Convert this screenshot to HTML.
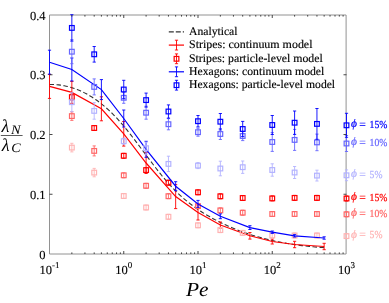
<!DOCTYPE html>
<html><head><meta charset="utf-8"><style>
html,body{margin:0;padding:0;background:#fff;width:389px;height:303px;overflow:hidden;position:relative}
</style></head><body>
<svg width="389" height="303" viewBox="0 0 389 303" style="position:absolute;left:0;top:0;will-change:transform" text-rendering="geometricPrecision">
<rect width="389" height="303" fill="#fff"/>
<path d="M49.5 15.0H346.1V254.0H49.5Z" fill="none" stroke="#929292" stroke-width="1"/>
<polyline points="49.50,84.43 51.34,84.44 53.19,84.49 55.03,84.59 56.87,84.73 58.72,84.92 60.56,85.16 62.41,85.45 64.25,85.79 66.09,86.17 67.94,86.61 69.78,87.10 71.62,87.64 73.47,88.23 75.31,88.87 77.15,89.56 79.00,90.31 80.84,91.11 82.69,91.97 84.53,92.88 86.37,93.84 88.22,94.86 90.06,95.94 91.90,97.07 93.75,98.27 95.59,99.51 97.43,100.82 99.28,102.19 101.12,103.61 102.97,105.10 104.81,106.64 106.65,108.25 108.50,109.91 110.34,111.64 112.18,113.43 114.03,115.29 115.87,117.20 117.71,119.18 119.56,121.23 121.40,123.33 123.24,125.50 125.09,127.71 126.93,129.97 128.78,132.27 130.62,134.61 132.46,136.98 134.31,139.38 136.15,141.81 137.99,144.25 139.84,146.71 141.68,149.18 143.52,151.66 145.37,154.14 147.21,156.61 149.06,159.08 150.90,161.53 152.74,163.97 154.59,166.38 156.43,168.77 158.27,171.13 160.12,173.45 161.96,175.73 163.80,177.97 165.65,180.16 167.49,182.30 169.34,184.37 171.18,186.39 173.02,188.34 174.87,190.23 176.71,192.06 178.55,193.83 180.40,195.55 182.24,197.21 184.08,198.82 185.93,200.38 187.77,201.89 189.62,203.36 191.46,204.77 193.30,206.15 195.15,207.48 196.99,208.77 198.83,210.03 200.68,211.25 202.52,212.43 204.36,213.58 206.21,214.70 208.05,215.79 209.90,216.85 211.74,217.89 213.58,218.90 215.43,219.89 217.27,220.85 219.11,221.79 220.96,222.70 222.80,223.60 224.64,224.47 226.49,225.32 228.33,226.14 230.18,226.95 232.02,227.74 233.86,228.50 235.71,229.25 237.55,229.98 239.39,230.69 241.24,231.38 243.08,232.05 244.92,232.71 246.77,233.35 248.61,233.97 250.46,234.57 252.30,235.16 254.14,235.73 255.99,236.28 257.83,236.82 259.67,237.34 261.52,237.85 263.36,238.34 265.20,238.82 267.05,239.28 268.89,239.72 270.73,240.16 272.58,240.58 274.42,240.98 276.27,241.37 278.11,241.75 279.95,242.12 281.80,242.47 283.64,242.81 285.48,243.14 287.33,243.45 289.17,243.76 291.01,244.05 292.86,244.33 294.70,244.60 296.55,244.86 298.39,245.11 300.23,245.35 302.08,245.58 303.92,245.80 305.76,246.01 307.61,246.22 309.45,246.41 311.29,246.59 313.14,246.77 314.98,246.93 316.83,247.09 318.67,247.25 320.51,247.39 322.36,247.53 324.20,247.66" fill="none" stroke="#333" stroke-width="1.1" stroke-dasharray="4.5 2.5"/>
<polyline points="49.50,86.40 71.85,92.40 101.40,108.80 123.75,133.80 146.10,163.00 175.65,196.60 198.00,212.50 220.35,225.00 249.90,235.80 272.25,241.50 294.60,244.50 324.15,246.50" fill="none" stroke="#ff0000" stroke-width="1.2"/>
<path d="M49.50 74.40V98.40M47.90 74.40H51.10M47.90 98.40H51.10" stroke="#ff0000" stroke-width="0.9" fill="none"/>
<path d="M71.85 81.40V103.40M70.25 81.40H73.45M70.25 103.40H73.45" stroke="#ff0000" stroke-width="0.9" fill="none"/>
<path d="M101.40 96.80V120.80M99.80 96.80H103.00M99.80 120.80H103.00" stroke="#ff0000" stroke-width="0.9" fill="none"/>
<path d="M123.75 121.50V146.10M122.15 121.50H125.35M122.15 146.10H125.35" stroke="#ff0000" stroke-width="0.9" fill="none"/>
<path d="M146.10 152.50V173.50M144.50 152.50H147.70M144.50 173.50H147.70" stroke="#ff0000" stroke-width="0.9" fill="none"/>
<path d="M175.65 184.60V208.60M174.05 184.60H177.25M174.05 208.60H177.25" stroke="#ff0000" stroke-width="0.9" fill="none"/>
<path d="M198.00 205.00V220.00M196.40 205.00H199.60M196.40 220.00H199.60" stroke="#ff0000" stroke-width="0.9" fill="none"/>
<path d="M220.35 222.00V228.00M218.75 222.00H221.95M218.75 228.00H221.95" stroke="#ff0000" stroke-width="0.9" fill="none"/>
<path d="M249.90 232.50V239.10M248.30 232.50H251.50M248.30 239.10H251.50" stroke="#ff0000" stroke-width="0.9" fill="none"/>
<path d="M272.25 239.00V244.00M270.65 239.00H273.85M270.65 244.00H273.85" stroke="#ff0000" stroke-width="0.9" fill="none"/>
<path d="M294.60 241.30V247.70M293.00 241.30H296.20M293.00 247.70H296.20" stroke="#ff0000" stroke-width="0.9" fill="none"/>
<path d="M324.15 243.30V249.70M322.55 243.30H325.75M322.55 249.70H325.75" stroke="#ff0000" stroke-width="0.9" fill="none"/>
<path d="M71.85 143.30V151.90M70.25 143.30H73.45M70.25 151.90H73.45" stroke="#ffb3b3" stroke-width="0.9" fill="none"/>
<rect x="69.50" y="145.25" width="4.7" height="4.7" stroke="#ffb3b3" stroke-width="1.2" fill="none"/>
<path d="M94.20 168.40V176.80M92.60 168.40H95.80M92.60 176.80H95.80" stroke="#ffb3b3" stroke-width="0.9" fill="none"/>
<rect x="91.85" y="170.25" width="4.7" height="4.7" stroke="#ffb3b3" stroke-width="1.2" fill="none"/>
<path d="M123.75 193.50V198.50M122.15 193.50H125.35M122.15 198.50H125.35" stroke="#ffb3b3" stroke-width="0.9" fill="none"/>
<rect x="121.40" y="193.65" width="4.7" height="4.7" stroke="#ffb3b3" stroke-width="1.2" fill="none"/>
<path d="M146.10 205.00V210.00M144.50 205.00H147.70M144.50 210.00H147.70" stroke="#ffb3b3" stroke-width="0.9" fill="none"/>
<rect x="143.75" y="205.15" width="4.7" height="4.7" stroke="#ffb3b3" stroke-width="1.2" fill="none"/>
<path d="M168.45 214.30V219.30M166.85 214.30H170.05M166.85 219.30H170.05" stroke="#ffb3b3" stroke-width="0.9" fill="none"/>
<rect x="166.10" y="214.45" width="4.7" height="4.7" stroke="#ffb3b3" stroke-width="1.2" fill="none"/>
<path d="M198.00 222.80V227.80M196.40 222.80H199.60M196.40 227.80H199.60" stroke="#ffb3b3" stroke-width="0.9" fill="none"/>
<rect x="195.65" y="222.95" width="4.7" height="4.7" stroke="#ffb3b3" stroke-width="1.2" fill="none"/>
<path d="M220.35 227.60V232.60M218.75 227.60H221.95M218.75 232.60H221.95" stroke="#ffb3b3" stroke-width="0.9" fill="none"/>
<rect x="218.00" y="227.75" width="4.7" height="4.7" stroke="#ffb3b3" stroke-width="1.2" fill="none"/>
<path d="M242.70 230.40V235.40M241.10 230.40H244.30M241.10 235.40H244.30" stroke="#ffb3b3" stroke-width="0.9" fill="none"/>
<rect x="240.35" y="230.55" width="4.7" height="4.7" stroke="#ffb3b3" stroke-width="1.2" fill="none"/>
<path d="M272.25 233.00V238.00M270.65 233.00H273.85M270.65 238.00H273.85" stroke="#ffb3b3" stroke-width="0.9" fill="none"/>
<rect x="269.90" y="233.15" width="4.7" height="4.7" stroke="#ffb3b3" stroke-width="1.2" fill="none"/>
<path d="M294.60 233.00V238.00M293.00 233.00H296.20M293.00 238.00H296.20" stroke="#ffb3b3" stroke-width="0.9" fill="none"/>
<rect x="292.25" y="233.15" width="4.7" height="4.7" stroke="#ffb3b3" stroke-width="1.2" fill="none"/>
<path d="M316.95 233.00V238.00M315.35 233.00H318.55M315.35 238.00H318.55" stroke="#ffb3b3" stroke-width="0.9" fill="none"/>
<rect x="314.60" y="233.15" width="4.7" height="4.7" stroke="#ffb3b3" stroke-width="1.2" fill="none"/>
<path d="M346.50 233.60V238.60M344.90 233.60H348.10M344.90 238.60H348.10" stroke="#ffb3b3" stroke-width="0.9" fill="none"/>
<rect x="344.15" y="233.75" width="4.7" height="4.7" stroke="#ffb3b3" stroke-width="1.2" fill="none"/>
<path d="M71.85 111.80V120.40M70.25 111.80H73.45M70.25 120.40H73.45" stroke="#ff6666" stroke-width="0.9" fill="none"/>
<rect x="69.50" y="113.75" width="4.7" height="4.7" stroke="#ff6666" stroke-width="1.2" fill="none"/>
<path d="M94.20 145.90V155.90M92.60 145.90H95.80M92.60 155.90H95.80" stroke="#ff6666" stroke-width="0.9" fill="none"/>
<rect x="91.85" y="148.55" width="4.7" height="4.7" stroke="#ff6666" stroke-width="1.2" fill="none"/>
<path d="M123.75 172.80V177.80M122.15 172.80H125.35M122.15 177.80H125.35" stroke="#ff6666" stroke-width="0.9" fill="none"/>
<rect x="121.40" y="172.95" width="4.7" height="4.7" stroke="#ff6666" stroke-width="1.2" fill="none"/>
<path d="M146.10 183.30V188.30M144.50 183.30H147.70M144.50 188.30H147.70" stroke="#ff6666" stroke-width="0.9" fill="none"/>
<rect x="143.75" y="183.45" width="4.7" height="4.7" stroke="#ff6666" stroke-width="1.2" fill="none"/>
<path d="M168.45 193.70V198.70M166.85 193.70H170.05M166.85 198.70H170.05" stroke="#ff6666" stroke-width="0.9" fill="none"/>
<rect x="166.10" y="193.85" width="4.7" height="4.7" stroke="#ff6666" stroke-width="1.2" fill="none"/>
<path d="M198.00 203.60V208.60M196.40 203.60H199.60M196.40 208.60H199.60" stroke="#ff6666" stroke-width="0.9" fill="none"/>
<rect x="195.65" y="203.75" width="4.7" height="4.7" stroke="#ff6666" stroke-width="1.2" fill="none"/>
<path d="M220.35 207.90V212.90M218.75 207.90H221.95M218.75 212.90H221.95" stroke="#ff6666" stroke-width="0.9" fill="none"/>
<rect x="218.00" y="208.05" width="4.7" height="4.7" stroke="#ff6666" stroke-width="1.2" fill="none"/>
<path d="M242.70 210.20V215.20M241.10 210.20H244.30M241.10 215.20H244.30" stroke="#ff6666" stroke-width="0.9" fill="none"/>
<rect x="240.35" y="210.35" width="4.7" height="4.7" stroke="#ff6666" stroke-width="1.2" fill="none"/>
<path d="M272.25 211.50V216.50M270.65 211.50H273.85M270.65 216.50H273.85" stroke="#ff6666" stroke-width="0.9" fill="none"/>
<rect x="269.90" y="211.65" width="4.7" height="4.7" stroke="#ff6666" stroke-width="1.2" fill="none"/>
<path d="M294.60 211.50V216.50M293.00 211.50H296.20M293.00 216.50H296.20" stroke="#ff6666" stroke-width="0.9" fill="none"/>
<rect x="292.25" y="211.65" width="4.7" height="4.7" stroke="#ff6666" stroke-width="1.2" fill="none"/>
<path d="M316.95 211.50V216.50M315.35 211.50H318.55M315.35 216.50H318.55" stroke="#ff6666" stroke-width="0.9" fill="none"/>
<rect x="314.60" y="211.65" width="4.7" height="4.7" stroke="#ff6666" stroke-width="1.2" fill="none"/>
<path d="M346.50 211.80V216.80M344.90 211.80H348.10M344.90 216.80H348.10" stroke="#ff6666" stroke-width="0.9" fill="none"/>
<rect x="344.15" y="211.95" width="4.7" height="4.7" stroke="#ff6666" stroke-width="1.2" fill="none"/>
<path d="M71.85 94.10V100.10M70.25 94.10H73.45M70.25 100.10H73.45" stroke="#ff0000" stroke-width="0.9" fill="none"/>
<rect x="69.50" y="94.75" width="4.7" height="4.7" stroke="#ff0000" stroke-width="1.2" fill="none"/>
<path d="M94.20 125.50V130.50M92.60 125.50H95.80M92.60 130.50H95.80" stroke="#ff0000" stroke-width="0.9" fill="none"/>
<rect x="91.85" y="125.65" width="4.7" height="4.7" stroke="#ff0000" stroke-width="1.2" fill="none"/>
<path d="M123.75 153.30V158.30M122.15 153.30H125.35M122.15 158.30H125.35" stroke="#ff0000" stroke-width="0.9" fill="none"/>
<rect x="121.40" y="153.45" width="4.7" height="4.7" stroke="#ff0000" stroke-width="1.2" fill="none"/>
<path d="M146.10 167.60V172.60M144.50 167.60H147.70M144.50 172.60H147.70" stroke="#ff0000" stroke-width="0.9" fill="none"/>
<rect x="143.75" y="167.75" width="4.7" height="4.7" stroke="#ff0000" stroke-width="1.2" fill="none"/>
<path d="M168.45 180.20V185.20M166.85 180.20H170.05M166.85 185.20H170.05" stroke="#ff0000" stroke-width="0.9" fill="none"/>
<rect x="166.10" y="180.35" width="4.7" height="4.7" stroke="#ff0000" stroke-width="1.2" fill="none"/>
<path d="M198.00 189.80V194.80M196.40 189.80H199.60M196.40 194.80H199.60" stroke="#ff0000" stroke-width="0.9" fill="none"/>
<rect x="195.65" y="189.95" width="4.7" height="4.7" stroke="#ff0000" stroke-width="1.2" fill="none"/>
<path d="M220.35 193.80V198.80M218.75 193.80H221.95M218.75 198.80H221.95" stroke="#ff0000" stroke-width="0.9" fill="none"/>
<rect x="218.00" y="193.95" width="4.7" height="4.7" stroke="#ff0000" stroke-width="1.2" fill="none"/>
<path d="M242.70 195.50V200.50M241.10 195.50H244.30M241.10 200.50H244.30" stroke="#ff0000" stroke-width="0.9" fill="none"/>
<rect x="240.35" y="195.65" width="4.7" height="4.7" stroke="#ff0000" stroke-width="1.2" fill="none"/>
<path d="M272.25 195.90V200.90M270.65 195.90H273.85M270.65 200.90H273.85" stroke="#ff0000" stroke-width="0.9" fill="none"/>
<rect x="269.90" y="196.05" width="4.7" height="4.7" stroke="#ff0000" stroke-width="1.2" fill="none"/>
<path d="M294.60 195.40V200.40M293.00 195.40H296.20M293.00 200.40H296.20" stroke="#ff0000" stroke-width="0.9" fill="none"/>
<rect x="292.25" y="195.55" width="4.7" height="4.7" stroke="#ff0000" stroke-width="1.2" fill="none"/>
<path d="M316.95 195.40V200.40M315.35 195.40H318.55M315.35 200.40H318.55" stroke="#ff0000" stroke-width="0.9" fill="none"/>
<rect x="314.60" y="195.55" width="4.7" height="4.7" stroke="#ff0000" stroke-width="1.2" fill="none"/>
<path d="M346.50 196.00V201.00M344.90 196.00H348.10M344.90 201.00H348.10" stroke="#ff0000" stroke-width="0.9" fill="none"/>
<rect x="344.15" y="196.15" width="4.7" height="4.7" stroke="#ff0000" stroke-width="1.2" fill="none"/>
<polyline points="49.50,62.20 71.85,69.50 101.40,89.60 123.75,118.50 146.10,149.30 175.65,186.20 198.00,203.90 220.35,216.30 249.90,227.60 272.25,232.20 294.60,235.80 324.15,238.00" fill="none" stroke="#0000ff" stroke-width="1.2"/>
<path d="M49.50 50.20V74.20M47.90 50.20H51.10M47.90 74.20H51.10" stroke="#0000ff" stroke-width="0.9" fill="none"/>
<path d="M71.85 58.00V81.00M70.25 58.00H73.45M70.25 81.00H73.45" stroke="#0000ff" stroke-width="0.9" fill="none"/>
<path d="M101.40 79.60V99.60M99.80 79.60H103.00M99.80 99.60H103.00" stroke="#0000ff" stroke-width="0.9" fill="none"/>
<path d="M123.75 110.00V127.00M122.15 110.00H125.35M122.15 127.00H125.35" stroke="#0000ff" stroke-width="0.9" fill="none"/>
<path d="M146.10 141.30V157.30M144.50 141.30H147.70M144.50 157.30H147.70" stroke="#0000ff" stroke-width="0.9" fill="none"/>
<path d="M175.65 181.70V190.70M174.05 181.70H177.25M174.05 190.70H177.25" stroke="#0000ff" stroke-width="0.9" fill="none"/>
<path d="M198.00 200.40V207.40M196.40 200.40H199.60M196.40 207.40H199.60" stroke="#0000ff" stroke-width="0.9" fill="none"/>
<path d="M220.35 213.90V218.70M218.75 213.90H221.95M218.75 218.70H221.95" stroke="#0000ff" stroke-width="0.9" fill="none"/>
<path d="M249.90 225.70V229.50M248.30 225.70H251.50M248.30 229.50H251.50" stroke="#0000ff" stroke-width="0.9" fill="none"/>
<path d="M272.25 231.00V233.40M270.65 231.00H273.85M270.65 233.40H273.85" stroke="#0000ff" stroke-width="0.9" fill="none"/>
<path d="M294.60 234.60V237.00M293.00 234.60H296.20M293.00 237.00H296.20" stroke="#0000ff" stroke-width="0.9" fill="none"/>
<path d="M324.15 236.80V239.20M322.55 236.80H325.75M322.55 239.20H325.75" stroke="#0000ff" stroke-width="0.9" fill="none"/>
<path d="M71.85 92.70V111.70M70.25 92.70H73.45M70.25 111.70H73.45" stroke="#b3b3ff" stroke-width="0.9" fill="none"/>
<rect x="69.50" y="99.85" width="4.7" height="4.7" stroke="#b3b3ff" stroke-width="1.2" fill="none"/>
<path d="M94.20 102.60V119.20M92.60 102.60H95.80M92.60 119.20H95.80" stroke="#b3b3ff" stroke-width="0.9" fill="none"/>
<rect x="91.85" y="108.55" width="4.7" height="4.7" stroke="#b3b3ff" stroke-width="1.2" fill="none"/>
<path d="M123.75 138.20V144.20M122.15 138.20H125.35M122.15 144.20H125.35" stroke="#b3b3ff" stroke-width="0.9" fill="none"/>
<rect x="121.40" y="138.85" width="4.7" height="4.7" stroke="#b3b3ff" stroke-width="1.2" fill="none"/>
<path d="M146.10 142.20V154.20M144.50 142.20H147.70M144.50 154.20H147.70" stroke="#b3b3ff" stroke-width="0.9" fill="none"/>
<rect x="143.75" y="145.85" width="4.7" height="4.7" stroke="#b3b3ff" stroke-width="1.2" fill="none"/>
<path d="M168.45 156.20V171.60M166.85 156.20H170.05M166.85 171.60H170.05" stroke="#b3b3ff" stroke-width="0.9" fill="none"/>
<rect x="166.10" y="161.55" width="4.7" height="4.7" stroke="#b3b3ff" stroke-width="1.2" fill="none"/>
<path d="M198.00 162.60V168.60M196.40 162.60H199.60M196.40 168.60H199.60" stroke="#b3b3ff" stroke-width="0.9" fill="none"/>
<rect x="195.65" y="163.25" width="4.7" height="4.7" stroke="#b3b3ff" stroke-width="1.2" fill="none"/>
<path d="M220.35 161.20V175.80M218.75 161.20H221.95M218.75 175.80H221.95" stroke="#b3b3ff" stroke-width="0.9" fill="none"/>
<rect x="218.00" y="166.15" width="4.7" height="4.7" stroke="#b3b3ff" stroke-width="1.2" fill="none"/>
<path d="M242.70 161.00V173.40M241.10 161.00H244.30M241.10 173.40H244.30" stroke="#b3b3ff" stroke-width="0.9" fill="none"/>
<rect x="240.35" y="164.85" width="4.7" height="4.7" stroke="#b3b3ff" stroke-width="1.2" fill="none"/>
<path d="M272.25 163.80V176.20M270.65 163.80H273.85M270.65 176.20H273.85" stroke="#b3b3ff" stroke-width="0.9" fill="none"/>
<rect x="269.90" y="167.65" width="4.7" height="4.7" stroke="#b3b3ff" stroke-width="1.2" fill="none"/>
<path d="M294.60 166.50V178.50M293.00 166.50H296.20M293.00 178.50H296.20" stroke="#b3b3ff" stroke-width="0.9" fill="none"/>
<rect x="292.25" y="170.15" width="4.7" height="4.7" stroke="#b3b3ff" stroke-width="1.2" fill="none"/>
<path d="M316.95 170.20V181.00M315.35 170.20H318.55M315.35 181.00H318.55" stroke="#b3b3ff" stroke-width="0.9" fill="none"/>
<rect x="314.60" y="173.25" width="4.7" height="4.7" stroke="#b3b3ff" stroke-width="1.2" fill="none"/>
<path d="M346.50 169.90V180.70M344.90 169.90H348.10M344.90 180.70H348.10" stroke="#b3b3ff" stroke-width="0.9" fill="none"/>
<rect x="344.15" y="172.95" width="4.7" height="4.7" stroke="#b3b3ff" stroke-width="1.2" fill="none"/>
<path d="M71.85 39.70V63.70M70.25 39.70H73.45M70.25 63.70H73.45" stroke="#6666ff" stroke-width="0.9" fill="none"/>
<rect x="69.50" y="49.35" width="4.7" height="4.7" stroke="#6666ff" stroke-width="1.2" fill="none"/>
<path d="M94.20 78.90V94.90M92.60 78.90H95.80M92.60 94.90H95.80" stroke="#6666ff" stroke-width="0.9" fill="none"/>
<rect x="91.85" y="84.55" width="4.7" height="4.7" stroke="#6666ff" stroke-width="1.2" fill="none"/>
<path d="M123.75 92.30V103.30M122.15 92.30H125.35M122.15 103.30H125.35" stroke="#6666ff" stroke-width="0.9" fill="none"/>
<rect x="121.40" y="95.45" width="4.7" height="4.7" stroke="#6666ff" stroke-width="1.2" fill="none"/>
<path d="M146.10 106.20V119.20M144.50 106.20H147.70M144.50 119.20H147.70" stroke="#6666ff" stroke-width="0.9" fill="none"/>
<rect x="143.75" y="110.35" width="4.7" height="4.7" stroke="#6666ff" stroke-width="1.2" fill="none"/>
<path d="M168.45 118.60V129.80M166.85 118.60H170.05M166.85 129.80H170.05" stroke="#6666ff" stroke-width="0.9" fill="none"/>
<rect x="166.10" y="121.85" width="4.7" height="4.7" stroke="#6666ff" stroke-width="1.2" fill="none"/>
<path d="M198.00 128.20V136.20M196.40 128.20H199.60M196.40 136.20H199.60" stroke="#6666ff" stroke-width="0.9" fill="none"/>
<rect x="195.65" y="129.85" width="4.7" height="4.7" stroke="#6666ff" stroke-width="1.2" fill="none"/>
<path d="M220.35 128.50V139.50M218.75 128.50H221.95M218.75 139.50H221.95" stroke="#6666ff" stroke-width="0.9" fill="none"/>
<rect x="218.00" y="131.65" width="4.7" height="4.7" stroke="#6666ff" stroke-width="1.2" fill="none"/>
<path d="M242.70 131.40V140.60M241.10 131.40H244.30M241.10 140.60H244.30" stroke="#6666ff" stroke-width="0.9" fill="none"/>
<rect x="240.35" y="133.65" width="4.7" height="4.7" stroke="#6666ff" stroke-width="1.2" fill="none"/>
<path d="M272.25 132.60V151.40M270.65 132.60H273.85M270.65 151.40H273.85" stroke="#6666ff" stroke-width="0.9" fill="none"/>
<rect x="269.90" y="139.65" width="4.7" height="4.7" stroke="#6666ff" stroke-width="1.2" fill="none"/>
<path d="M294.60 129.40V150.40M293.00 129.40H296.20M293.00 150.40H296.20" stroke="#6666ff" stroke-width="0.9" fill="none"/>
<rect x="292.25" y="137.55" width="4.7" height="4.7" stroke="#6666ff" stroke-width="1.2" fill="none"/>
<path d="M316.95 134.10V150.70M315.35 134.10H318.55M315.35 150.70H318.55" stroke="#6666ff" stroke-width="0.9" fill="none"/>
<rect x="314.60" y="140.05" width="4.7" height="4.7" stroke="#6666ff" stroke-width="1.2" fill="none"/>
<path d="M346.50 135.50V151.50M344.90 135.50H348.10M344.90 151.50H348.10" stroke="#6666ff" stroke-width="0.9" fill="none"/>
<rect x="344.15" y="141.15" width="4.7" height="4.7" stroke="#6666ff" stroke-width="1.2" fill="none"/>
<path d="M71.85 14.70V41.10M70.25 14.70H73.45M70.25 41.10H73.45" stroke="#0000ff" stroke-width="0.9" fill="none"/>
<rect x="69.50" y="25.55" width="4.7" height="4.7" stroke="#0000ff" stroke-width="1.2" fill="none"/>
<path d="M94.20 46.50V62.10M92.60 46.50H95.80M92.60 62.10H95.80" stroke="#0000ff" stroke-width="0.9" fill="none"/>
<rect x="91.85" y="51.95" width="4.7" height="4.7" stroke="#0000ff" stroke-width="1.2" fill="none"/>
<path d="M123.75 80.30V98.70M122.15 80.30H125.35M122.15 98.70H125.35" stroke="#0000ff" stroke-width="0.9" fill="none"/>
<rect x="121.40" y="87.15" width="4.7" height="4.7" stroke="#0000ff" stroke-width="1.2" fill="none"/>
<path d="M146.10 93.10V107.10M144.50 93.10H147.70M144.50 107.10H147.70" stroke="#0000ff" stroke-width="0.9" fill="none"/>
<rect x="143.75" y="97.75" width="4.7" height="4.7" stroke="#0000ff" stroke-width="1.2" fill="none"/>
<path d="M168.45 104.90V118.10M166.85 104.90H170.05M166.85 118.10H170.05" stroke="#0000ff" stroke-width="0.9" fill="none"/>
<rect x="166.10" y="109.15" width="4.7" height="4.7" stroke="#0000ff" stroke-width="1.2" fill="none"/>
<path d="M198.00 115.50V126.90M196.40 115.50H199.60M196.40 126.90H199.60" stroke="#0000ff" stroke-width="0.9" fill="none"/>
<rect x="195.65" y="118.85" width="4.7" height="4.7" stroke="#0000ff" stroke-width="1.2" fill="none"/>
<path d="M220.35 113.50V129.90M218.75 113.50H221.95M218.75 129.90H221.95" stroke="#0000ff" stroke-width="0.9" fill="none"/>
<rect x="218.00" y="119.35" width="4.7" height="4.7" stroke="#0000ff" stroke-width="1.2" fill="none"/>
<path d="M242.70 121.40V136.60M241.10 121.40H244.30M241.10 136.60H244.30" stroke="#0000ff" stroke-width="0.9" fill="none"/>
<rect x="240.35" y="126.65" width="4.7" height="4.7" stroke="#0000ff" stroke-width="1.2" fill="none"/>
<path d="M272.25 115.50V134.50M270.65 115.50H273.85M270.65 134.50H273.85" stroke="#0000ff" stroke-width="0.9" fill="none"/>
<rect x="269.90" y="122.65" width="4.7" height="4.7" stroke="#0000ff" stroke-width="1.2" fill="none"/>
<path d="M294.60 111.00V134.40M293.00 111.00H296.20M293.00 134.40H296.20" stroke="#0000ff" stroke-width="0.9" fill="none"/>
<rect x="292.25" y="120.35" width="4.7" height="4.7" stroke="#0000ff" stroke-width="1.2" fill="none"/>
<path d="M316.95 108.50V139.30M315.35 108.50H318.55M315.35 139.30H318.55" stroke="#0000ff" stroke-width="0.9" fill="none"/>
<rect x="314.60" y="121.55" width="4.7" height="4.7" stroke="#0000ff" stroke-width="1.2" fill="none"/>
<path d="M346.50 113.30V137.30M344.90 113.30H348.10M344.90 137.30H348.10" stroke="#0000ff" stroke-width="0.9" fill="none"/>
<rect x="344.15" y="122.95" width="4.7" height="4.7" stroke="#0000ff" stroke-width="1.2" fill="none"/>
<path d="M71.85 254.0v-1.6M71.85 15.0v1.6M84.93 254.0v-1.6M84.93 15.0v1.6M94.20 254.0v-1.6M94.20 15.0v1.6M101.40 254.0v-1.6M101.40 15.0v1.6M107.28 254.0v-1.6M107.28 15.0v1.6M112.25 254.0v-1.6M112.25 15.0v1.6M116.55 254.0v-1.6M116.55 15.0v1.6M120.35 254.0v-1.6M120.35 15.0v1.6M123.75 254.0v-3M123.75 15.0v3M146.10 254.0v-1.6M146.10 15.0v1.6M159.18 254.0v-1.6M159.18 15.0v1.6M168.45 254.0v-1.6M168.45 15.0v1.6M175.65 254.0v-1.6M175.65 15.0v1.6M181.53 254.0v-1.6M181.53 15.0v1.6M186.50 254.0v-1.6M186.50 15.0v1.6M190.80 254.0v-1.6M190.80 15.0v1.6M194.60 254.0v-1.6M194.60 15.0v1.6M198.00 254.0v-3M198.00 15.0v3M220.35 254.0v-1.6M220.35 15.0v1.6M233.43 254.0v-1.6M233.43 15.0v1.6M242.70 254.0v-1.6M242.70 15.0v1.6M249.90 254.0v-1.6M249.90 15.0v1.6M255.78 254.0v-1.6M255.78 15.0v1.6M260.75 254.0v-1.6M260.75 15.0v1.6M265.05 254.0v-1.6M265.05 15.0v1.6M268.85 254.0v-1.6M268.85 15.0v1.6M272.25 254.0v-3M272.25 15.0v3M294.60 254.0v-1.6M294.60 15.0v1.6M307.68 254.0v-1.6M307.68 15.0v1.6M316.95 254.0v-1.6M316.95 15.0v1.6M324.15 254.0v-1.6M324.15 15.0v1.6M330.03 254.0v-1.6M330.03 15.0v1.6M335.00 254.0v-1.6M335.00 15.0v1.6M339.30 254.0v-1.6M339.30 15.0v1.6M343.10 254.0v-1.6M343.10 15.0v1.6M49.5 194.25h3M346.5 194.25h-3M49.5 134.50h3M346.5 134.50h-3M49.5 74.75h3M346.5 74.75h-3" stroke="#333" stroke-width="0.9" fill="none"/>
<text x="45.6" y="259.0" font-family="Liberation Serif" font-size="12.5" text-anchor="end" fill="#000" stroke="#000" stroke-width="0.12">0</text>
<text x="45.6" y="199.0" font-family="Liberation Serif" font-size="12.5" text-anchor="end" fill="#000" stroke="#000" stroke-width="0.12">0.1</text>
<text x="45.6" y="139.1" font-family="Liberation Serif" font-size="12.5" text-anchor="end" fill="#000" stroke="#000" stroke-width="0.12">0.2</text>
<text x="45.6" y="79.4" font-family="Liberation Serif" font-size="12.5" text-anchor="end" fill="#000" stroke="#000" stroke-width="0.12">0.3</text>
<text x="45.6" y="19.7" font-family="Liberation Serif" font-size="12.5" text-anchor="end" fill="#000" stroke="#000" stroke-width="0.12">0.4</text>
<text x="49.50" y="273.8" font-family="Liberation Serif" font-size="12.5" text-anchor="middle" fill="#000" stroke="#000" stroke-width="0.12">10<tspan font-size="9" dy="-6">-1</tspan></text>
<text x="123.75" y="273.8" font-family="Liberation Serif" font-size="12.5" text-anchor="middle" fill="#000" stroke="#000" stroke-width="0.12">10<tspan font-size="9" dy="-6">0</tspan></text>
<text x="198.00" y="273.8" font-family="Liberation Serif" font-size="12.5" text-anchor="middle" fill="#000" stroke="#000" stroke-width="0.12">10<tspan font-size="9" dy="-6">1</tspan></text>
<text x="272.25" y="273.8" font-family="Liberation Serif" font-size="12.5" text-anchor="middle" fill="#000" stroke="#000" stroke-width="0.12">10<tspan font-size="9" dy="-6">2</tspan></text>
<text x="346.50" y="273.8" font-family="Liberation Serif" font-size="12.5" text-anchor="middle" fill="#000" stroke="#000" stroke-width="0.12">10<tspan font-size="9" dy="-6">3</tspan></text>
<text x="186" y="296.3" font-family="Liberation Serif" font-size="20" font-style="italic" fill="#000" textLength="22.6" lengthAdjust="spacingAndGlyphs">Pe</text>
<text x="1.5" y="132.3" font-family="Liberation Serif" font-size="18" font-style="italic" fill="#000">λ</text>
<text x="10.9" y="134.0" font-family="Liberation Serif" font-size="13" font-style="italic" fill="#000" textLength="9.6" lengthAdjust="spacingAndGlyphs">N</text>
<text x="1.8" y="150.5" font-family="Liberation Serif" font-size="18" font-style="italic" fill="#000">λ</text>
<text x="11.2" y="151.8" font-family="Liberation Serif" font-size="13" font-style="italic" fill="#000" textLength="9.4" lengthAdjust="spacingAndGlyphs">C</text>
<path d="M0.8 135.5H22.6" stroke="#333" stroke-width="0.8"/>
<path d="M168.8 31.9H184.0" stroke="#333" stroke-width="1.1" stroke-dasharray="5 2"/>
<path d="M168.8 45.1H184.0" stroke="#ff0000" stroke-width="1.2"/><path d="M176.50 40.20V50.00M174.90 40.20H178.10M174.90 50.00H178.10" stroke="#ff0000" stroke-width="0.9" fill="none"/>
<path d="M176.50 53.90V63.70M174.90 53.90H178.10M174.90 63.70H178.10" stroke="#ff0000" stroke-width="0.9" fill="none"/><rect x="174.15" y="56.45" width="4.7" height="4.7" stroke="#ff0000" stroke-width="1.2" fill="none"/>
<path d="M168.8 71.8H184.0" stroke="#0000ff" stroke-width="1.2"/><path d="M176.50 66.90V76.70M174.90 66.90H178.10M174.90 76.70H178.10" stroke="#0000ff" stroke-width="0.9" fill="none"/>
<path d="M176.50 80.30V90.10M174.90 80.30H178.10M174.90 90.10H178.10" stroke="#0000ff" stroke-width="0.9" fill="none"/><rect x="174.15" y="82.85" width="4.7" height="4.7" stroke="#0000ff" stroke-width="1.2" fill="none"/>
<text x="189" y="34.70" font-family="Liberation Serif" font-size="11.7" fill="#000" stroke="#000" stroke-width="0.15" textLength="48.5" lengthAdjust="spacingAndGlyphs">Analytical</text>
<text x="189" y="47.90" font-family="Liberation Serif" font-size="11.7" fill="#000" stroke="#000" stroke-width="0.15" textLength="123.5" lengthAdjust="spacingAndGlyphs">Stripes: continuum model</text>
<text x="189" y="61.60" font-family="Liberation Serif" font-size="11.7" fill="#000" stroke="#000" stroke-width="0.15" textLength="133.8" lengthAdjust="spacingAndGlyphs">Stripes: particle-level model</text>
<text x="189" y="74.60" font-family="Liberation Serif" font-size="11.7" fill="#000" stroke="#000" stroke-width="0.15" textLength="135.3" lengthAdjust="spacingAndGlyphs">Hexagons: continuum model</text>
<text x="189" y="88.00" font-family="Liberation Serif" font-size="11.7" fill="#000" stroke="#000" stroke-width="0.15" textLength="146.1" lengthAdjust="spacingAndGlyphs">Hexagons: particle-level model</text>
<text x="351" y="127.20" font-family="Liberation Serif" font-size="11.5" font-style="italic" fill="#0000ff" stroke="#0000ff" stroke-width="0.2">ϕ</text>
<text x="359.3" y="127.50" font-family="Liberation Serif" font-size="11.5" fill="#0000ff" stroke="#0000ff" stroke-width="0.15" textLength="6.6" lengthAdjust="spacingAndGlyphs">=</text>
<text x="369.6" y="127.60" font-family="Liberation Serif" font-size="10.8" fill="#0000ff" stroke="#0000ff" stroke-width="0.22" textLength="17.8" lengthAdjust="spacingAndGlyphs">15%</text>
<text x="351" y="145.40" font-family="Liberation Serif" font-size="11.5" font-style="italic" fill="#6666ff" stroke="#6666ff" stroke-width="0.2">ϕ</text>
<text x="359.3" y="145.70" font-family="Liberation Serif" font-size="11.5" fill="#6666ff" stroke="#6666ff" stroke-width="0.15" textLength="6.6" lengthAdjust="spacingAndGlyphs">=</text>
<text x="369.6" y="145.80" font-family="Liberation Serif" font-size="10.8" fill="#6666ff" stroke="#6666ff" stroke-width="0.22" textLength="17.8" lengthAdjust="spacingAndGlyphs">10%</text>
<text x="351" y="177.20" font-family="Liberation Serif" font-size="11.5" font-style="italic" fill="#b3b3ff" stroke="#b3b3ff" stroke-width="0.2">ϕ</text>
<text x="359.3" y="177.50" font-family="Liberation Serif" font-size="11.5" fill="#b3b3ff" stroke="#b3b3ff" stroke-width="0.15" textLength="6.6" lengthAdjust="spacingAndGlyphs">=</text>
<text x="369.6" y="177.60" font-family="Liberation Serif" font-size="10.8" fill="#b3b3ff" stroke="#b3b3ff" stroke-width="0.22" textLength="12.8" lengthAdjust="spacingAndGlyphs">5%</text>
<text x="351" y="200.40" font-family="Liberation Serif" font-size="11.5" font-style="italic" fill="#ff0000" stroke="#ff0000" stroke-width="0.2">ϕ</text>
<text x="359.3" y="200.70" font-family="Liberation Serif" font-size="11.5" fill="#ff0000" stroke="#ff0000" stroke-width="0.15" textLength="6.6" lengthAdjust="spacingAndGlyphs">=</text>
<text x="369.6" y="200.80" font-family="Liberation Serif" font-size="10.8" fill="#ff0000" stroke="#ff0000" stroke-width="0.22" textLength="17.8" lengthAdjust="spacingAndGlyphs">15%</text>
<text x="351" y="216.20" font-family="Liberation Serif" font-size="11.5" font-style="italic" fill="#ff6666" stroke="#ff6666" stroke-width="0.2">ϕ</text>
<text x="359.3" y="216.50" font-family="Liberation Serif" font-size="11.5" fill="#ff6666" stroke="#ff6666" stroke-width="0.15" textLength="6.6" lengthAdjust="spacingAndGlyphs">=</text>
<text x="369.6" y="216.60" font-family="Liberation Serif" font-size="10.8" fill="#ff6666" stroke="#ff6666" stroke-width="0.22" textLength="17.8" lengthAdjust="spacingAndGlyphs">10%</text>
<text x="351" y="238.00" font-family="Liberation Serif" font-size="11.5" font-style="italic" fill="#ffb3b3" stroke="#ffb3b3" stroke-width="0.2">ϕ</text>
<text x="359.3" y="238.30" font-family="Liberation Serif" font-size="11.5" fill="#ffb3b3" stroke="#ffb3b3" stroke-width="0.15" textLength="6.6" lengthAdjust="spacingAndGlyphs">=</text>
<text x="369.6" y="238.40" font-family="Liberation Serif" font-size="10.8" fill="#ffb3b3" stroke="#ffb3b3" stroke-width="0.22" textLength="12.8" lengthAdjust="spacingAndGlyphs">5%</text>
</svg>
</body></html>
